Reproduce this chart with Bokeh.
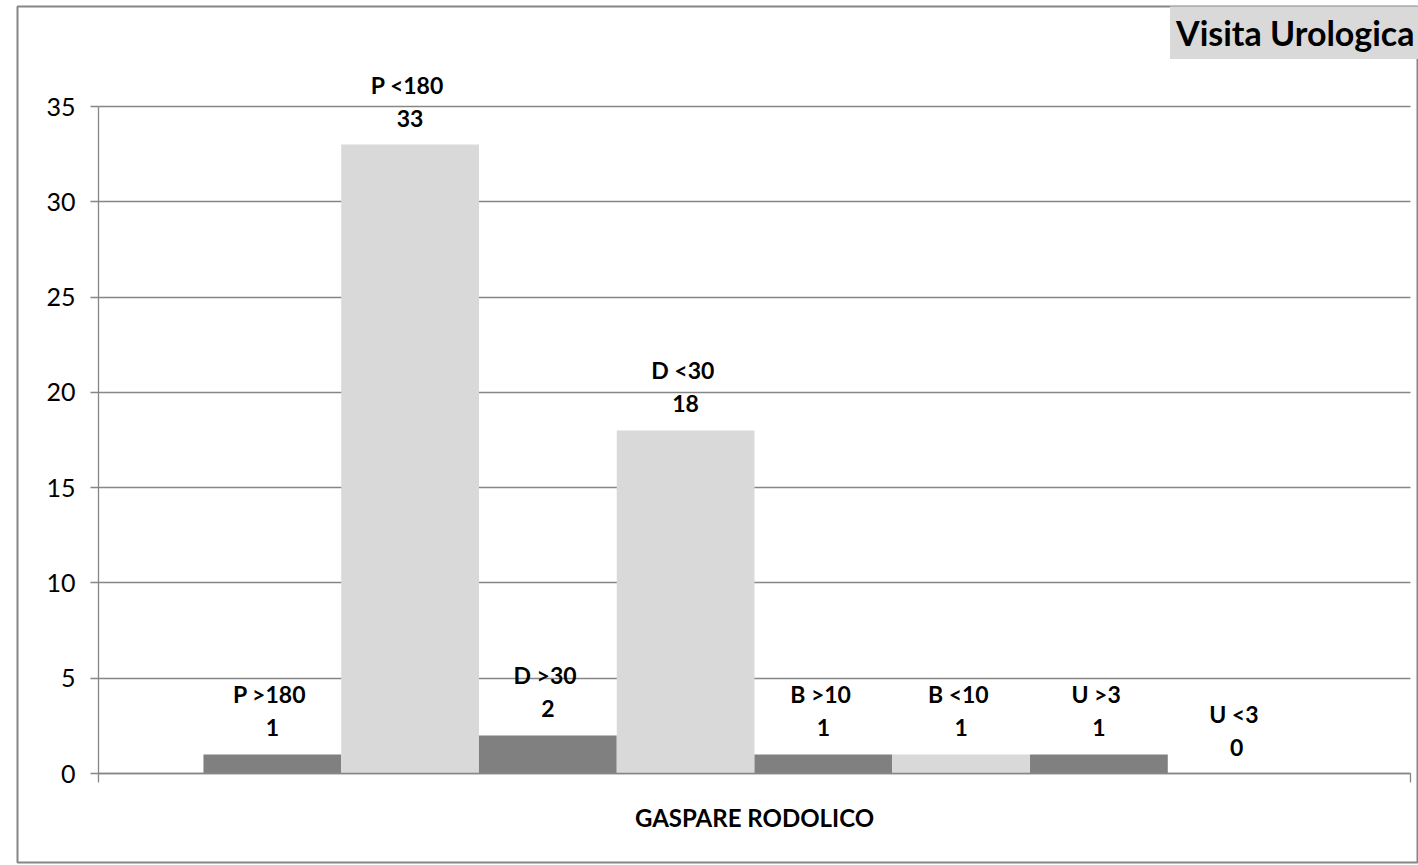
from bokeh.plotting import figure
from bokeh.models import ColumnDataSource, LabelSet, Label, FixedTicker, Range1d
from bokeh.core.properties import value
from bokeh.embed import file_html
from bokeh.resources import INLINE

# ---- data ----
category = "GASPARE RODOLICO"
title_text = "Visita Urologica"
series = ["P  >180", "P  <180", "D  >30", "D  <30", "B  >10", "B  <10", "U  >3", "U  <3"]
values = [1, 33, 2, 18, 1, 1, 1, 0]
colors = ["#808080", "#D9D9D9", "#808080", "#D9D9D9", "#808080", "#D9D9D9", "#808080", "#D9D9D9"]
y_ticks = [0, 5, 10, 15, 20, 25, 30, 35]
y_max = 35

# ---- geometry (page pixels; the figure sits at the page origin) ----
ORIGIN = 0
W, H = 1418, 865
MB_LEFT, MB_TOP, MB_BOTTOM = 17, 6, 3
frame_l, frame_r = ORIGIN + MB_LEFT, ORIGIN + W
frame_t, frame_b = ORIGIN + MB_TOP, ORIGIN + H - MB_BOTTOM
ax_l, ax_r = 98, 1410      # x data 0..1
ax_t, ax_b = 106, 773      # y data y_max..0

sx = (ax_r - ax_l)
sy = (ax_b - ax_t) / y_max
x0 = (frame_l - ax_l) / sx
x1 = 1 + (frame_r - ax_r) / sx
y0 = -(frame_b - ax_b) / sy
y1 = y_max + (ax_t - frame_t) / sy

# ---- bars within the single category (0..1) ----
group_frac = 0.84
n = len(series)
bw = group_frac / n
start = (1 - group_frac) / 2
xs = [start + (i + 0.5) * bw for i in range(n)]

src = ColumnDataSource(dict(x=xs, top=values, color=colors, name=series,
                            val=[str(v) for v in values]))

FONT = "Lato"
GRAY = "#868686"

p = figure(width=W, height=H, x_range=Range1d(x0, x1), y_range=Range1d(y0, y1),
           output_backend="svg", toolbar_location=None,
           min_border_left=MB_LEFT, min_border_top=MB_TOP, min_border_right=0,
           min_border_bottom=MB_BOTTOM)
p.outline_line_color = GRAY
p.outline_line_width = 2
p.background_fill_color = "white"
p.border_fill_color = "white"

p.vbar(x="x", top="top", bottom=0, width=bw, color="color", line_color=None, source=src)

# grid
p.xgrid.visible = False
p.ygrid.grid_line_color = GRAY
p.ygrid.grid_line_width = 1.3
p.ygrid.bounds = (5, y_max)
p.ygrid.cross_bounds = (0, 1)

# y axis
p.yaxis.fixed_location = 0
p.yaxis.bounds = (0, y_max)
p.yaxis.ticker = FixedTicker(ticks=y_ticks)
p.yaxis.minor_tick_line_color = None
p.yaxis.major_tick_in = 0
p.yaxis.major_tick_out = 8
p.yaxis.major_tick_line_color = GRAY
p.yaxis.axis_line_color = GRAY
p.yaxis.axis_line_width = 1.3
p.yaxis.major_tick_line_width = 1.3
p.yaxis.major_label_text_font = FONT
p.yaxis.major_label_text_font_size = "25px"
p.yaxis.major_label_text_color = "black"
p.yaxis.major_label_standoff = 15

# x axis
p.xaxis.fixed_location = 0
p.xaxis.bounds = (0, 1)
p.xaxis.ticker = FixedTicker(ticks=[0, 1])
p.xaxis.major_label_overrides = {0: "", 1: ""}
p.xaxis.minor_tick_line_color = None
p.xaxis.major_tick_in = 0
p.xaxis.major_tick_out = 9
p.xaxis.major_tick_line_color = GRAY
p.xaxis.major_tick_line_width = 1.3
p.xaxis.axis_line_color = GRAY
p.xaxis.axis_line_width = 1.3
p.xaxis.axis_label = category
p.xaxis.axis_label_text_font = FONT
p.xaxis.axis_label_text_font_style = "bold"
p.xaxis.axis_label_text_font_size = "24px"
p.xaxis.axis_label_text_color = "black"
p.xaxis.axis_label_standoff = 20

# data labels
p.add_layout(LabelSet(x="x", y="top", text="val", source=src, y_offset=18,
                      text_align="center", text_baseline="alphabetic",
                      text_font=value(FONT), text_font_style="bold", text_font_size="23px",
                      text_color="black"))
p.add_layout(LabelSet(x="x", y="top", text="name", source=src, y_offset=51,
                      text_align="center", text_baseline="alphabetic",
                      text_font=value(FONT), text_font_style="bold", text_font_size="23px",
                      text_color="black"))

# title box
p.add_layout(Label(x=1, y=y_max, x_offset=10, y_offset=74, text=title_text,
                   text_align="right", text_baseline="alphabetic",
                   text_font=FONT, text_font_style="bold", text_font_size="34px",
                   text_color="black", background_fill_color="#D9D9D9",
                   padding=6))

open("out.html", "w").write(file_html(p, INLINE))
